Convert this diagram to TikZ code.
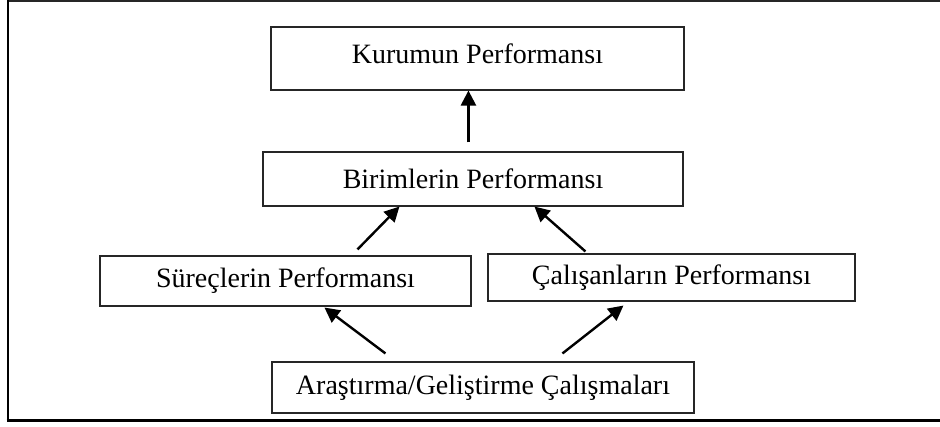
\documentclass[tikz,border=0pt]{standalone}
\usepackage{fontspec}
\setmainfont{Liberation Serif}
\usetikzlibrary{arrows.meta,calc}
\begin{document}
\begin{tikzpicture}[x=1pt,y=-1pt,
  box/.style={draw=black!85,line width=1.1pt,rectangle,inner sep=0pt,
    font=\fontsize{28}{34}\selectfont},
  arr/.style={line width=2.4pt,-{Triangle[length=15pt,width=15pt]}}]
\useasboundingbox (0,0) rectangle (940,427);
% frame
\draw[line width=1.6pt,black!85] (940,1) -- (8,1);
\draw[line width=2.8pt] (8,0) -- (8,422);
\draw[line width=3pt] (6.6,420.5) -- (940,420.5);
% boxes
\node[box,minimum width=413pt,minimum height=63pt,text height=19pt,text depth=9pt] (kur) at (477.5,58.5) {Kurumun Performansı};
\node[box,minimum width=420pt,minimum height=54pt] (bir) at (473,179) {Birimlerin Performansı};
\node[box,minimum width=371pt,minimum height=50pt] (sur) at (285.5,281) {Süreçlerin Performansı};
\node[box,minimum width=367pt,minimum height=47pt] (cal) at (671.5,277.5) {Çalışanların Performansı};
\node[box,minimum width=422pt,minimum height=51pt] (ara) at (483,387.5) {Araştırma/Geliştirme Çalışmaları};
% arrows
\draw[arr] ($(bir.north west)+(206,-9)$) -- ($(kur.south west)+(198,0)$);
\draw[arr] ($(sur.north west)+(258,-6)$) -- ($(bir.south west)+(137,0)$);
\draw[arr] ($(cal.north west)+(98,-2)$) -- ($(bir.south west)+(272,0)$);
\draw[arr] ($(ara.north west)+(114,-8)$) -- ($(sur.south west)+(225,1)$);
\draw[arr] ($(ara.north west)+(291,-8)$) -- ($(cal.south west)+(136,4)$);
\end{tikzpicture}
\end{document}
